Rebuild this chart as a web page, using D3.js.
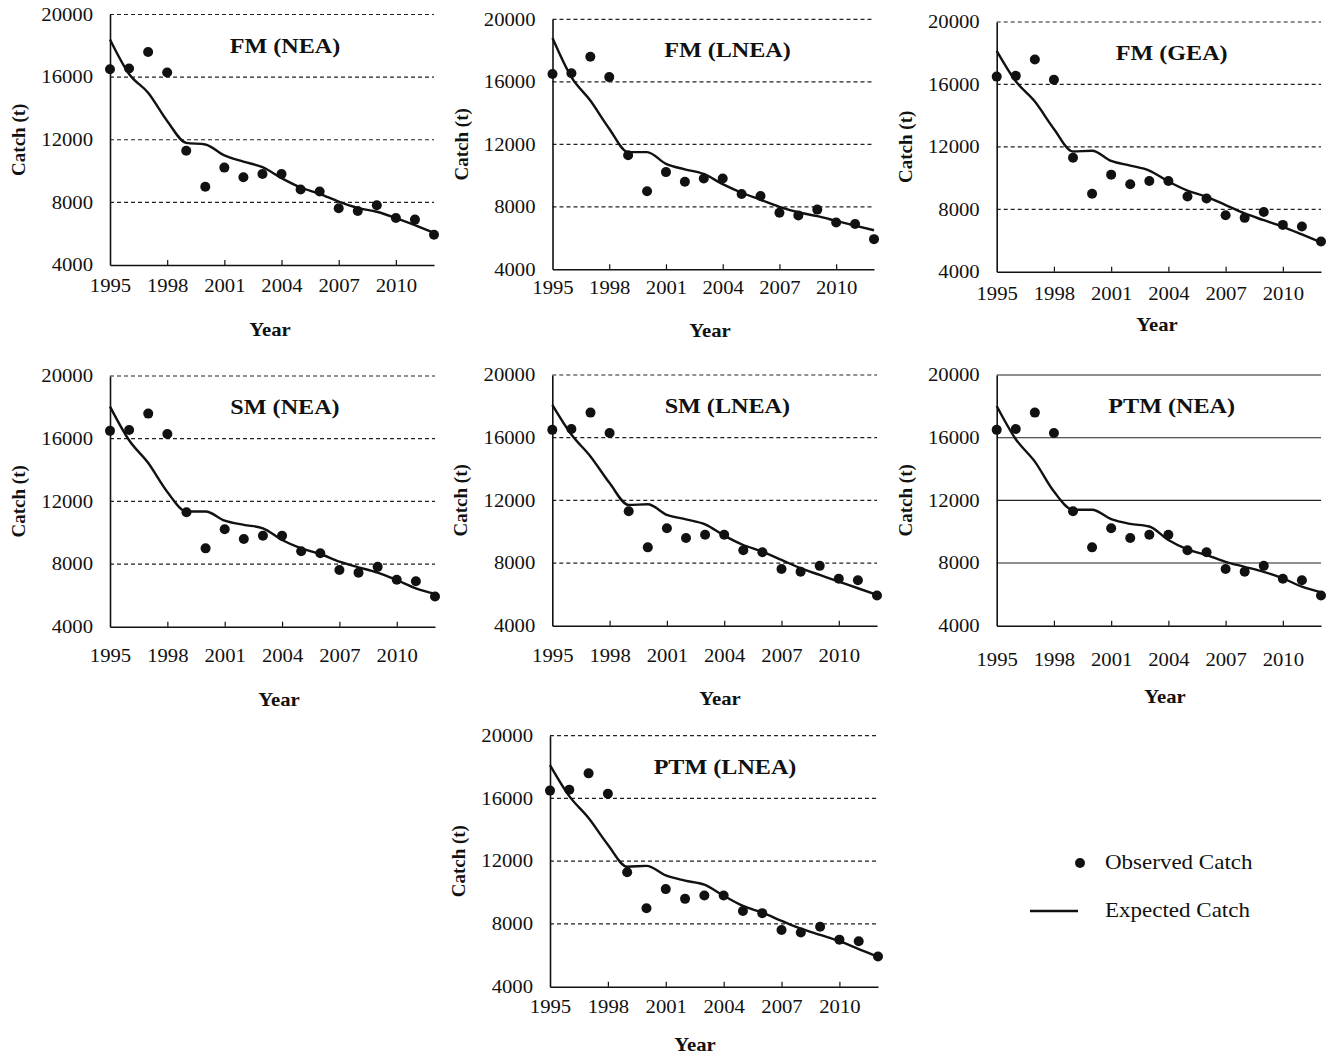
<!DOCTYPE html>
<html>
<head>
<meta charset="utf-8">
<script src="https://cdn.jsdelivr.net/npm/d3@7"></script>
<style>
  body { margin: 0; background: #fff; }
  svg text { font-family: "Liberation Serif", "Times New Roman", serif; fill: #111; }
</style>
</head>
<body>
<svg id="chart" width="1328" height="1059"></svg>
<script>
// data
var years = d3.range(1995, 2013);
var yearTicks = [1995, 1998, 2001, 2004, 2007, 2010];
var catchTicks = [4000, 8000, 12000, 16000, 20000];
var gridValues = [8000, 12000, 16000, 20000];

var observed = [16500, 16550, 17600, 16300, 11300, 9000, 10220, 9600, 9810, 9810, 8820, 8690, 7620, 7450, 7820, 7000, 6900, 5930];

var panelTitles = ["FM (NEA)", "FM (LNEA)", "FM (GEA)", "SM (NEA)", "SM (LNEA)", "PTM (NEA)", "PTM (LNEA)"];

var expFmNea   = [18400, 16200, 15000, 13200, 11800, 11700, 11000, 10600, 10250, 9550, 8950, 8550, 8050, 7650, 7400, 7000, 6550, 6050];
var expFmLnea  = [18800, 16300, 14800, 13000, 11500, 11500, 10750, 10400, 10100, 9450, 8900, 8450, 8000, 7650, 7400, 7100, 6800, 6500];
var expFmGea   = [18150, 16200, 14900, 13150, 11700, 11750, 11100, 10800, 10480, 9780, 9200, 8800, 8270, 7730, 7300, 6880, 6390, 5880];
var expSmNea   = [18050, 15900, 14450, 12600, 11350, 11350, 10770, 10500, 10280, 9530, 9000, 8640, 8150, 7790, 7450, 6980, 6450, 6090];
var expSmLnea  = [18100, 16200, 14800, 13100, 11700, 11750, 11070, 10790, 10470, 9750, 9150, 8730, 8200, 7670, 7240, 6810, 6390, 5960];
var expPtmNea  = [18020, 15900, 14470, 12560, 11400, 11400, 10800, 10500, 10330, 9470, 8870, 8510, 8080, 7760, 7440, 7020, 6490, 6130];
var expPtmLnea = [18130, 16150, 14750, 13050, 11650, 11700, 11090, 10760, 10500, 9800, 9150, 8720, 8200, 7700, 7300, 6900, 6400, 5900];

var expected = [expFmNea, expFmLnea, expFmGea, expSmNea, expSmLnea, expPtmNea, expPtmLnea];

// panel boxes on the page
var layout = [
    {left: 110,   right: 434,  top: 14.5, bottom: 265,   tickY: 286,  yearX: 270,  yearY: 330,  dashed: true},
    {left: 552.5, right: 874,  top: 19.3, bottom: 269.3, tickY: 288,  yearX: 710,  yearY: 331,  dashed: true},
    {left: 996.7, right: 1321, top: 22,   bottom: 271.7, tickY: 294,  yearX: 1157, yearY: 325,  dashed: true},
    {left: 110,   right: 435,  top: 376,  bottom: 626.7, tickY: 656,  yearX: 279,  yearY: 700,  dashed: true},
    {left: 552.3, right: 877,  top: 375,  bottom: 625.7, tickY: 656,  yearX: 720,  yearY: 699,  dashed: true},
    {left: 996.7, right: 1321, top: 375,  bottom: 625.7, tickY: 660,  yearX: 1165, yearY: 697,  dashed: false},
    {left: 550,   right: 878,  top: 735.7, bottom: 986.7, tickY: 1007, yearX: 695, yearY: 1045, dashed: true}
];

var stretch = 1.15;
var svg = d3.select("#chart");

panelTitles.forEach(function (title, i) {
    var box = layout[i];
    var x = d3.scaleLinear().domain([1995, 2012]).range([box.left, box.right]);
    var y = d3.scaleLinear().domain([4000, 20000]).range([box.bottom, box.top]);
    var g = svg.append("g").attr("class", "panel");

    // grid
    g.selectAll(".grid")
        .data(gridValues)
        .enter()
        .append("line")
        .attr("x1", box.left)
        .attr("x2", box.right)
        .attr("y1", d => y(d))
        .attr("y2", d => y(d))
        .style("stroke", "#222")
        .style("stroke-width", box.dashed ? 1.2 : 1.1)
        .style("stroke-dasharray", box.dashed ? "4 3" : null);

    // x axis, ticks pointing inward
    var xAxis = g.append("g")
        .attr("transform", `translate(0 ${box.bottom})`)
        .call(d3.axisBottom(x).tickValues(yearTicks).tickFormat(d3.format("d"))
            .tickSizeInner(-5).tickSizeOuter(0).tickPadding(box.tickY - box.bottom - 6.5));
    xAxis.select(".domain").style("stroke", "#111").style("stroke-width", 1.6);
    xAxis.selectAll(".tick line").style("stroke", "#111").style("stroke-width", 1.2);
    xAxis.selectAll(".tick text")
        .style("font-size", "18px")
        .attr("transform", `scale(${stretch},1)`);
    xAxis.selectAll(".tick").filter(d => d === 1995).select("line").remove();

    // y axis
    var yAxis = g.append("g")
        .attr("transform", `translate(${box.left} 0)`)
        .call(d3.axisLeft(y).tickValues(catchTicks).tickFormat(d3.format("d"))
            .tickSizeInner(0).tickSizeOuter(0));
    yAxis.select(".domain").style("stroke", "#111").style("stroke-width", 1.6);
    yAxis.selectAll(".tick text")
        .attr("x", 0)
        .style("font-size", "18px")
        .attr("transform", `translate(-17 0) scale(${stretch},1)`);

    // axis titles
    g.append("text")
        .attr("transform", `translate(${box.left - 85} ${(box.top + box.bottom) / 2}) rotate(-90)`)
        .attr("text-anchor", "middle")
        .style("font-size", "19px")
        .style("font-weight", "bold")
        .text("Catch (t)");

    g.append("text")
        .attr("transform", `translate(${box.yearX} ${box.yearY + 6}) scale(${stretch},1)`)
        .attr("text-anchor", "middle")
        .style("font-size", "18px")
        .style("font-weight", "bold")
        .text("Year");

    // panel title
    g.append("text")
        .attr("transform", `translate(${box.left + 175} ${box.top + 38}) scale(${stretch},1)`)
        .attr("text-anchor", "middle")
        .style("font-size", "21px")
        .style("font-weight", "bold")
        .text(title);

    // expected catch
    var line = d3.line()
        .x((d, j) => x(years[j]))
        .y(d => y(d))
        .curve(d3.curveMonotoneX);
    g.append("path")
        .datum(expected[i])
        .attr("d", line)
        .style("fill", "none")
        .style("stroke", "#111")
        .style("stroke-width", 2.4);

    // observed catch
    g.selectAll(".dot")
        .data(observed)
        .enter()
        .append("circle")
        .attr("cx", (d, j) => x(years[j]))
        .attr("cy", d => y(d))
        .attr("r", 5)
        .style("fill", "#111");
});

// legend
var legend = svg.append("g").attr("class", "legend");
legend.append("circle")
    .attr("cx", 1080)
    .attr("cy", 863)
    .attr("r", 5)
    .style("fill", "#111");
legend.append("line")
    .attr("x1", 1030)
    .attr("x2", 1078)
    .attr("y1", 911)
    .attr("y2", 911)
    .style("stroke", "#111")
    .style("stroke-width", 2.4);
legend.selectAll(".label")
    .data(["Observed Catch", "Expected Catch"])
    .enter()
    .append("text")
    .attr("transform", (d, i) => `translate(1105 ${869 + i * 48}) scale(${stretch},1)`)
    .style("font-size", "20px")
    .text(d => d);
</script>
</body>
</html>
